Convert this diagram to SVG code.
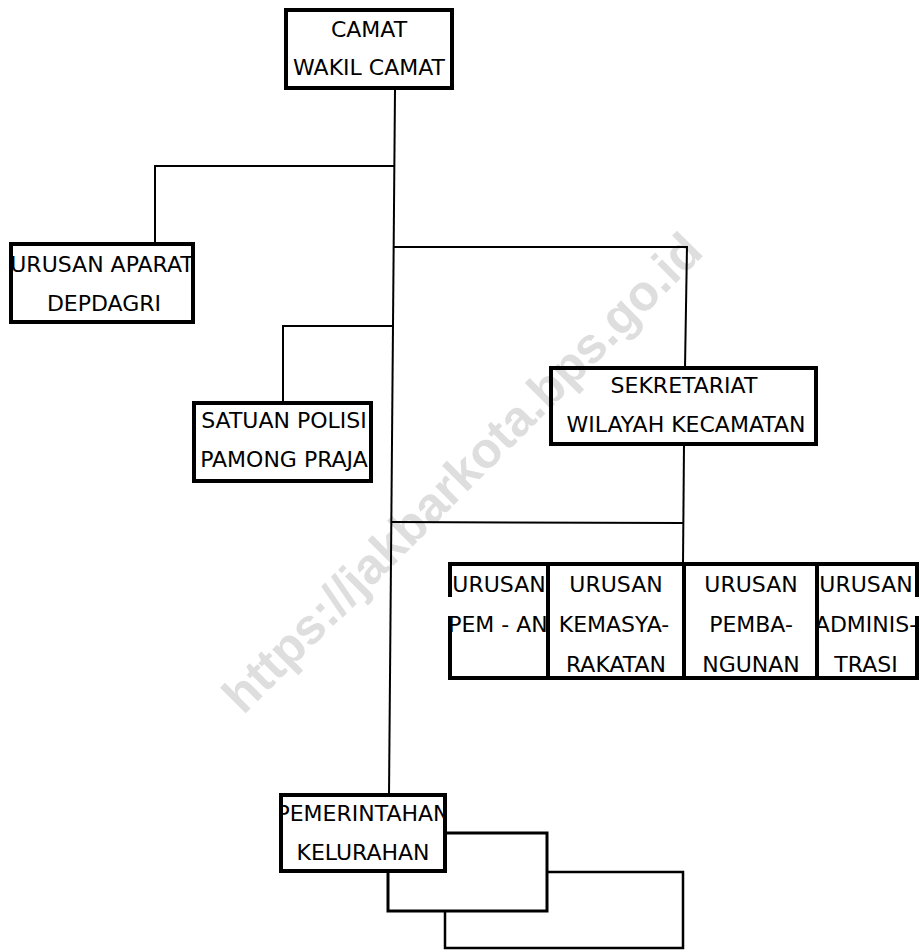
<svg xmlns="http://www.w3.org/2000/svg" width="922" height="951" viewBox="0 0 922 951">
<style>
.bx{fill:none;stroke:#000;stroke-width:4}
.bw{fill:#fff;stroke:#000}
.t{font-family:"DejaVu Sans",Verdana,sans-serif;font-size:22px;fill:#000;text-anchor:middle}
.c line{stroke:#000;stroke-width:2}
.wm{font-family:"Liberation Sans",Arial,sans-serif;font-weight:bold;font-size:50px;fill:#dedede;text-anchor:end}
.gap{fill:#fff}
</style>
<defs>
<clipPath id="cApar"><rect x="13" y="246" width="178" height="74"/></clipPath>
<clipPath id="cSat"><rect x="196" y="405" width="173" height="74"/></clipPath>
<clipPath id="cU1"><rect x="448" y="566" width="98" height="110"/></clipPath>
<clipPath id="cU4"><rect x="819" y="566" width="100" height="110"/></clipPath>
<clipPath id="cPem"><rect x="283" y="797" width="160" height="72"/></clipPath>
</defs>
<rect width="922" height="951" fill="#fff"/>
<text class="wm" transform="translate(705,254) rotate(-45)">https://jakbarkota.bps.go.id</text>
<g class="c" id="connectors">
<line x1="395" y1="90" x2="389" y2="795"/>
<line x1="395" y1="166" x2="155" y2="166"/>
<line x1="155" y1="165" x2="155" y2="244"/>
<line x1="393" y1="247" x2="687" y2="247"/>
<line x1="687" y1="246" x2="685" y2="368"/>
<line x1="393" y1="326" x2="283" y2="326"/>
<line x1="283" y1="325" x2="283" y2="403"/>
<line x1="684" y1="444" x2="683" y2="564"/>
<line x1="392" y1="522" x2="684" y2="523"/>
</g>
<g id="camat">
<rect class="bx" x="286" y="10" width="166" height="78"/>
<text class="t" x="369" y="37">CAMAT</text>
<text class="t" x="369" y="75">WAKIL CAMAT</text>
</g>
<g id="urusan-aparat">
<rect class="bx" x="11" y="244" width="182" height="78"/>
<g clip-path="url(#cApar)">
<text class="t" x="102" y="272">URUSAN APARAT</text>
<text class="t" x="104" y="311">DEPDAGRI</text>
</g>
</g>
<g id="satpol">
<rect class="bx" x="194" y="403" width="177" height="78"/>
<g clip-path="url(#cSat)">
<text class="t" x="284" y="428">SATUAN POLISI</text>
<text class="t" x="284" y="467">PAMONG PRAJA</text>
</g>
</g>
<g id="sekretariat">
<rect class="bx" x="551" y="368" width="265" height="76"/>
<text class="t" x="684" y="393">SEKRETARIAT</text>
<text class="t" x="686" y="432">WILAYAH KECAMATAN</text>
</g>
<g id="urusan-pem">
<rect class="bx" x="450" y="564" width="98" height="114"/>
<rect class="gap" x="447" y="597" width="6" height="19"/>
<g clip-path="url(#cU1)">
<text class="t" x="499" y="592">URUSAN</text>
<text class="t" x="498" y="632">PEM - AN</text>
</g>
</g>
<g id="urusan-kemasyarakatan">
<rect class="bx" x="548" y="564" width="136" height="114"/>
<text class="t" x="616" y="592">URUSAN</text>
<text class="t" x="614" y="632">KEMASYA-</text>
<text class="t" x="616" y="672">RAKATAN</text>
</g>
<g id="urusan-pembangunan">
<rect class="bx" x="684" y="564" width="133" height="114"/>
<text class="t" x="751" y="592">URUSAN</text>
<text class="t" x="751" y="632">PEMBA-</text>
<text class="t" x="751" y="672">NGUNAN</text>
</g>
<g id="urusan-administrasi">
<rect class="bx" x="817" y="564" width="100" height="114"/>
<rect class="gap" x="914" y="597" width="6" height="19"/>
<g clip-path="url(#cU4)">
<text class="t" x="866" y="592">URUSAN</text>
<text class="t" x="866" y="632">ADMINIS-</text>
<text class="t" x="866" y="672">TRASI</text>
</g>
</g>
<g id="kelurahan-3">
<rect class="bw" stroke-width="2.5" x="445" y="872" width="238" height="76"/>
</g>
<g id="kelurahan-2">
<rect class="bw" stroke-width="3" x="388" y="833" width="159" height="78"/>
</g>
<g id="kelurahan">
<rect class="bw" stroke-width="4" x="281" y="795" width="164" height="76"/>
<g clip-path="url(#cPem)">
<text class="t" x="363" y="821">PEMERINTAHAN</text>
<text class="t" x="363" y="860">KELURAHAN</text>
</g>
</g>
</svg>
